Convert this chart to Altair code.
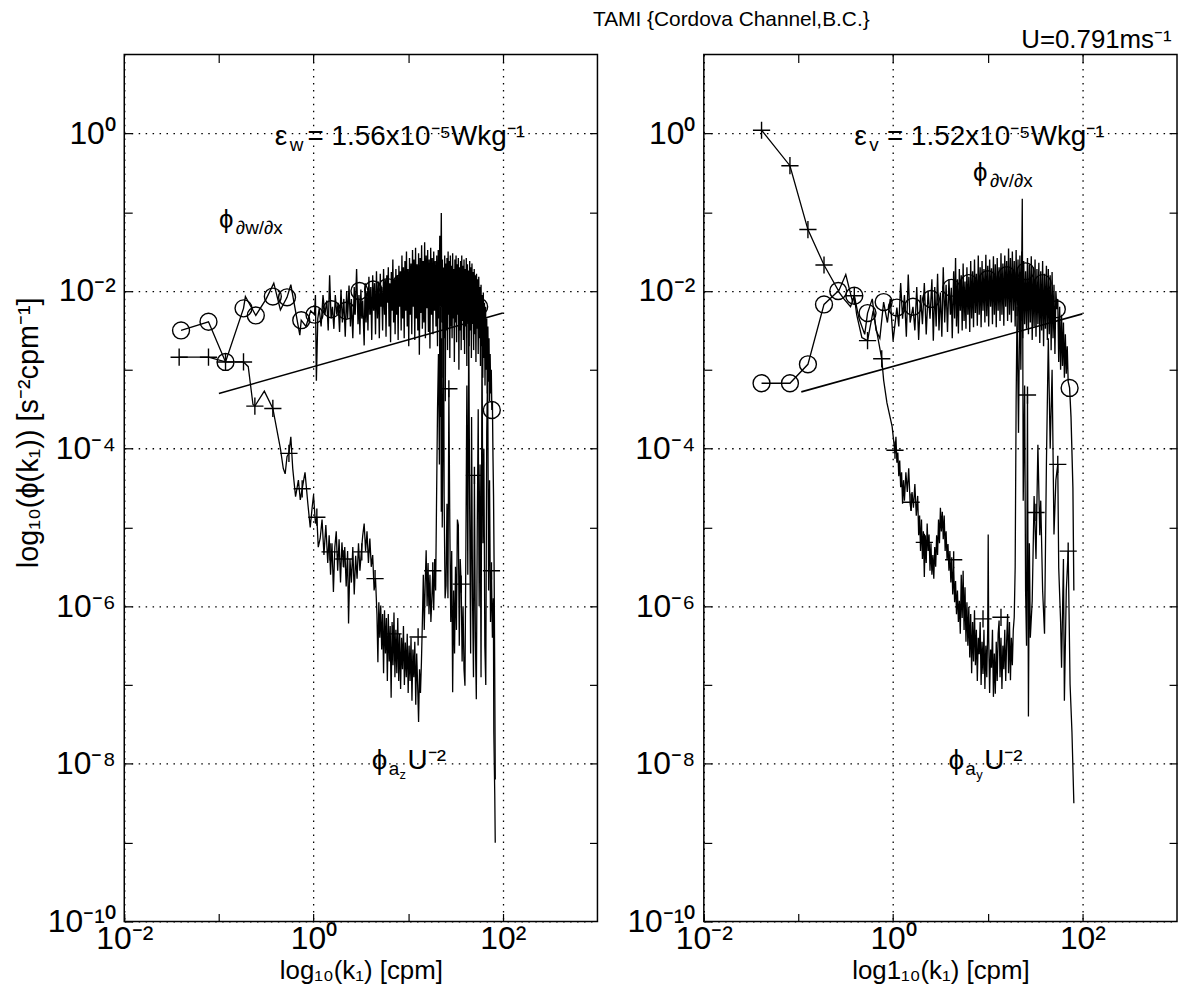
import altair as alt
import pandas as pd

FONT = "Liberation Sans"

# ---------------- values (log10 units) ----------------
# left panel: phi_dw/dx spectrum (line)
W_SPEC = [(-1.40,-2.50),(-1.11,-2.39),(-0.93,-2.90),(-0.74,-2.22),(-0.72,-2.07),(-0.61,-2.31),
    (-0.50,-2.10),(-0.42,-1.90),(-0.35,-2.24),(-0.28,-2.08),(-0.24,-1.92),(-0.145,-2.56),(-0.13,-2.37),
    (-0.08,-2.45),(-0.03,-2.25),(0.01,-2.30),(0.02,-2.05),(0.03,-3.14),(0.045,-2.35),
    (0.06,-2.22),(0.08,-2.45),(0.10,-2.05),(0.12,-2.30),(0.14,-2.12),(0.155,-2.50),(0.17,-1.80),
    (0.185,-2.35),(0.20,-2.20),(0.215,-2.48),(0.23,-2.05),(0.245,-2.30),(0.26,-2.15),(0.275,-2.52),
    (0.29,-1.98),(0.305,-2.40),(0.32,-2.10),(0.335,-2.58),(0.35,-2.00),(0.36,-2.35),(0.375,-1.93),
    (0.39,-2.45),(0.40,-2.10),(0.415,-2.60),(0.43,-1.95),(0.44,-2.30),(0.455,-1.72),(0.47,-2.42),
    (0.48,-2.05),(0.49,-2.55),(0.50,-1.98),(0.51,-2.35),(0.52,-2.12),(0.535,-2.69),(0.545,-1.90),
    (0.555,-2.40),(0.565,-2.00),(0.575,-2.50),(0.585,-1.82),(0.595,-2.30),(0.605,-1.95),(0.615,-2.62),
    (0.625,-1.80),(0.635,-2.25),(0.645,-1.90),(0.655,-2.55),(0.665,-1.75),(0.675,-2.35),(0.685,-1.88),
    (0.695,-2.60),(0.705,-1.78),(0.713,-2.20),(0.72,-1.95),(0.73,-2.50),(0.74,-1.72),(0.75,-2.30),
    (0.758,-1.85),(0.766,-2.58),(0.774,-1.80),(0.782,-2.15),(0.79,-1.70),(0.798,-2.45),(0.806,-1.90),
    (0.814,-2.65),(0.822,-1.76),(0.83,-2.25),(0.838,-1.60),(0.846,-2.40),(0.854,-1.85),(0.862,-2.55),
    (0.87,-1.72),(0.878,-2.30),(0.886,-1.80),(0.894,-2.62),(0.902,-1.68),(0.91,-2.20),(0.918,-1.75),
    (0.926,-2.50),(0.934,-1.55),(0.942,-2.35),(0.95,-1.70),(0.958,-2.60),(0.966,-1.62),(0.974,-2.25),
    (0.982,-1.50),(0.99,-2.45),(0.998,-1.72),(1.006,-2.70),(1.014,-1.58),(1.022,-2.30),(1.03,-1.65),
    (1.038,-2.55),(1.046,-1.48),(1.054,-2.20),(1.062,-1.60),(1.07,-2.62),(1.078,-1.45),(1.086,-2.35),
    (1.094,-1.66),(1.102,-2.50),(1.11,-1.52),(1.118,-2.81),(1.126,-1.58),(1.134,-2.28),(1.142,-1.42),
    (1.15,-2.48),(1.158,-1.62),(1.166,-2.40),(1.174,-1.38),(1.182,-2.60),(1.19,-1.55),(1.198,-2.22),
    (1.206,-1.48),(1.214,-2.52),(1.222,-1.60),(1.23,-2.73),(1.238,-1.45),(1.246,-2.30),(1.254,-1.58),
    (1.262,-2.55),(1.27,-1.50),(1.278,-2.25),(1.286,-1.62),(1.294,-2.45),(1.302,-1.55),(1.31,-2.70),
    (1.318,-1.48),(1.326,-2.35),(1.334,-1.30),(1.342,-2.20),(1.35,-1.01),(1.356,-2.40),(1.362,-1.60),
    (1.368,-3.10),(1.374,-1.70),(1.38,-2.60),(1.386,-1.55),(1.392,-3.40),(1.398,-1.65),(1.404,-2.50),
    (1.41,-1.58),(1.416,-2.75),(1.422,-1.50),(1.428,-2.30),(1.434,-1.62),(1.44,-2.85),(1.446,-1.55),
    (1.452,-2.45),(1.458,-1.68),(1.464,-2.60),(1.47,-1.52),(1.476,-2.35),(1.482,-1.72),(1.488,-2.90),
    (1.494,-1.60),(1.50,-2.40),(1.506,-1.55),(1.512,-2.65),(1.518,-1.66),(1.524,-2.30),(1.53,-1.58),
    (1.536,-3.00),(1.542,-1.70),(1.548,-2.50),(1.554,-1.62),(1.56,-2.75),(1.566,-1.55),(1.572,-2.38),
    (1.578,-1.68),(1.584,-2.62),(1.59,-1.60),(1.596,-2.80),(1.602,-1.72),(1.608,-2.45),(1.614,-1.58),
    (1.62,-2.95),(1.626,-1.66),(1.632,-2.40),(1.638,-1.74),(1.644,-2.70),(1.65,-1.62),(1.656,-2.50),
    (1.662,-1.70),(1.668,-2.85),(1.674,-1.65),(1.68,-2.42),(1.686,-1.76),(1.692,-2.75),(1.698,-1.72),
    (1.704,-2.55),(1.71,-1.80),(1.716,-2.90),(1.722,-1.78),(1.728,-2.48),(1.734,-1.85),(1.74,-2.80),
    (1.746,-1.82),(1.752,-2.60),(1.758,-1.95),(1.764,-2.95),(1.77,-1.92),(1.776,-2.70),(1.782,-2.05),
    (1.788,-3.10),(1.794,-2.02),(1.80,-2.85),(1.806,-2.15),(1.812,-3.20),(1.818,-2.20),(1.824,-3.00),
    (1.83,-2.35),(1.836,-3.30),(1.842,-2.45),(1.848,-3.15),(1.854,-2.60),(1.86,-3.40),(1.866,-2.80),
    (1.872,-3.30),(1.878,-3.00),(1.884,-3.51),(1.89,-3.40),(1.896,-4.10),(1.902,-4.60),(1.908,-5.50),
    (1.914,-6.80),(1.92,-8.20)]
W_CIRC = [(-1.40,-2.50),(-1.11,-2.39),(-0.93,-2.90),(-0.74,-2.22),(-0.61,-2.31),(-0.43,-2.07),
    (-0.28,-2.08),(-0.13,-2.37),(0.01,-2.30),(0.19,-2.23),(0.345,-2.25),(0.485,-2.00),(0.63,-1.98),
    (0.78,-1.95),(0.93,-1.90),(1.08,-1.95),(1.22,-1.95),(1.36,-1.92),(1.50,-2.00),(1.63,-2.05),
    (1.75,-2.20),(1.884,-3.51)]
# left panel: phi_az U^-2 spectrum (line)
Z_ACC = [(-1.42,-2.84),(-1.11,-2.84),(-0.93,-2.90),(-0.74,-2.90),(-0.69,-2.96),(-0.64,-3.44),
    (-0.62,-3.46),(-0.52,-3.27),(-0.43,-3.49),(-0.35,-4.00),(-0.32,-4.25),(-0.30,-4.32),(-0.28,-4.10),
    (-0.26,-4.06),(-0.24,-3.85),(-0.22,-4.25),(-0.19,-4.61),(-0.16,-4.40),(-0.14,-4.65),(-0.12,-4.51),
    (-0.09,-4.30),(-0.06,-4.70),(-0.035,-5.00),(-0.015,-4.75),(0.0,-4.59),(0.02,-4.95),(0.035,-4.87),
    (0.05,-5.25),(0.07,-5.14),(0.09,-4.90),(0.11,-5.35),(0.13,-4.97),(0.15,-5.45),(0.165,-5.10),
    (0.18,-5.60),(0.195,-5.20),(0.21,-5.82),(0.225,-5.25),(0.24,-5.05),(0.255,-5.55),(0.27,-5.15),
    (0.285,-5.70),(0.30,-5.19),(0.315,-5.50),(0.33,-5.25),(0.345,-5.75),(0.36,-5.30),(0.37,-6.22),
    (0.385,-5.40),(0.40,-5.70),(0.415,-5.25),(0.43,-5.85),(0.445,-5.36),(0.46,-5.65),(0.475,-5.20),
    (0.49,-5.55),(0.505,-5.31),(0.52,-5.10),(0.535,-4.95),(0.55,-5.30),(0.565,-5.05),(0.58,-5.45),
    (0.595,-5.14),(0.61,-5.50),(0.625,-5.35),(0.64,-5.80),(0.655,-5.65),(0.67,-6.10),(0.68,-6.71),
    (0.69,-5.95),(0.70,-6.40),(0.71,-5.99),(0.72,-6.55),(0.73,-6.10),(0.74,-6.85),(0.75,-6.05),
    (0.76,-6.60),(0.77,-6.15),(0.78,-6.95),(0.79,-6.10),(0.80,-6.70),(0.81,-6.25),(0.82,-7.16),
    (0.83,-6.20),(0.84,-6.75),(0.85,-6.08),(0.86,-6.90),(0.87,-6.30),(0.88,-6.85),(0.89,-6.15),
    (0.90,-6.95),(0.91,-6.35),(0.92,-7.05),(0.93,-6.40),(0.94,-6.80),(0.95,-6.25),(0.96,-7.00),
    (0.97,-6.46),(0.98,-6.90),(0.99,-6.35),(1.00,-7.10),(1.01,-6.50),(1.02,-6.95),(1.03,-6.40),
    (1.04,-7.20),(1.05,-6.55),(1.06,-6.90),(1.07,-6.45),(1.08,-7.25),(1.09,-6.60),(1.10,-7.00),
    (1.11,-7.47),(1.12,-6.80),(1.13,-7.10),(1.14,-6.71),(1.15,-6.20),(1.16,-5.60),(1.17,-6.30),
    (1.18,-5.70),(1.19,-5.29),(1.20,-6.00),(1.21,-5.45),(1.22,-6.10),(1.23,-5.60),(1.24,-6.20),
    (1.25,-5.91),(1.26,-5.55),(1.27,-6.05),(1.28,-5.40),(1.29,-5.80),(1.30,-4.64),(1.31,-3.50),
    (1.32,-2.80),(1.33,-4.20),(1.335,-1.50),(1.34,-3.60),(1.345,-2.20),(1.35,-4.80),(1.355,-2.60),
    (1.36,-5.00),(1.37,-3.40),(1.375,-2.40),(1.38,-4.60),(1.39,-5.90),(1.40,-5.74),(1.41,-4.70),
    (1.42,-5.90),(1.43,-3.24),(1.44,-4.97),(1.45,-6.20),(1.46,-5.30),(1.47,-7.09),(1.48,-5.80),
    (1.49,-6.60),(1.50,-5.50),(1.51,-6.30),(1.52,-4.90),(1.53,-4.97),(1.54,-6.50),(1.55,-5.40),
    (1.56,-5.72),(1.57,-6.70),(1.58,-6.00),(1.59,-6.80),(1.60,-7.01),(1.61,-5.20),(1.62,-3.20),
    (1.63,-5.60),(1.64,-2.40),(1.65,-4.80),(1.66,-6.60),(1.67,-3.60),(1.68,-5.90),(1.69,-6.90),
    (1.70,-4.34),(1.71,-6.40),(1.72,-7.18),(1.73,-5.00),(1.74,-3.50),(1.75,-6.00),(1.76,-4.20),
    (1.77,-6.90),(1.78,-2.60),(1.79,-5.20),(1.80,-4.00),(1.81,-6.50),(1.82,-7.00),(1.83,-3.80),
    (1.84,-3.00),(1.85,-5.80),(1.86,-4.40),(1.87,-6.20),(1.88,-5.55),(1.89,-6.40),(1.90,-5.90),
    (1.905,-7.60),(1.915,-8.40),(1.92,-9.00)]
Z_PLUS = [(-1.42,-2.84),(-1.11,-2.84),(-0.93,-2.90),(-0.74,-2.90),(-0.62,-3.46),(-0.43,-3.49),
    (-0.26,-4.06),(-0.12,-4.51),(0.035,-4.87),(0.175,-5.31),(0.32,-5.40),(0.51,-5.31),(0.65,-5.65),
    (0.84,-6.35),(1.105,-6.39),(1.26,-5.55),(1.43,-3.24),(1.56,-5.72),(1.70,-4.34),(1.88,-5.55)]
W_REF = [(-1.0,-3.30),(2.0,-2.28)]

# right panel: phi_dv/dx spectrum (line)
V_SPEC = [(-1.39,-3.17),(-1.09,-3.17),(-0.90,-2.93),(-0.73,-2.17),(-0.58,-2.00),(-0.52,-2.10),
    (-0.45,-2.20),(-0.41,-2.06),(-0.36,-2.35),(-0.30,-2.55),(-0.27,-2.28),(-0.22,-2.10),(-0.18,-2.50),
    (-0.14,-2.60),(-0.10,-2.14),(-0.06,-2.40),(-0.03,-2.10),(0.0,-2.63),(0.04,-2.21),(0.06,-2.45),
    (0.08,-1.90),(0.10,-2.35),(0.12,-2.05),(0.14,-2.58),(0.16,-1.79),(0.18,-2.40),(0.21,-2.20),
    (0.23,-2.50),(0.25,-1.95),(0.27,-2.62),(0.29,-2.05),(0.31,-2.42),(0.33,-1.90),(0.35,-2.55),
    (0.37,-2.00),(0.39,-2.35),(0.41,-1.85),(0.425,-2.63),(0.44,-1.95),(0.455,-2.45),(0.47,-1.78),
    (0.485,-2.50),(0.50,-2.02),(0.515,-2.58),(0.53,-1.70),(0.545,-2.40),(0.56,-1.92),(0.575,-2.52),
    (0.59,-1.85),(0.605,-2.30),(0.615,-1.96),(0.625,-2.60),(0.64,-1.75),(0.65,-2.35),(0.66,-1.58),
    (0.67,-2.45),(0.68,-1.85),(0.69,-2.54),(0.70,-1.72),(0.71,-2.25),(0.72,-1.80),(0.73,-2.50),
    (0.74,-1.65),(0.75,-2.38),(0.76,-1.88),(0.77,-2.48),(0.78,-1.70),(0.79,-2.30),(0.80,-1.82),
    (0.81,-2.52),(0.82,-1.62),(0.83,-2.35),(0.84,-1.75),(0.85,-2.46),(0.86,-1.60),(0.87,-2.28),
    (0.88,-1.78),(0.89,-2.44),(0.90,-1.55),(0.91,-2.30),(0.92,-1.70),(0.93,-2.46),(0.94,-1.62),
    (0.95,-2.25),(0.96,-1.72),(0.97,-2.40),(0.98,-1.54),(0.99,-2.32),(1.00,-1.68),(1.01,-2.45),
    (1.02,-1.60),(1.03,-2.20),(1.04,-1.71),(1.05,-2.42),(1.06,-1.56),(1.07,-2.30),(1.08,-1.66),
    (1.09,-2.46),(1.10,-1.58),(1.11,-2.25),(1.12,-1.70),(1.13,-2.38),(1.14,-1.52),(1.15,-2.30),
    (1.16,-1.65),(1.17,-2.44),(1.18,-1.55),(1.19,-2.20),(1.20,-1.62),(1.21,-2.38),(1.22,-1.46),
    (1.23,-2.30),(1.24,-1.58),(1.25,-2.40),(1.26,-1.50),(1.27,-2.25),(1.28,-1.62),(1.29,-2.45),
    (1.30,-1.48),(1.31,-2.32),(1.32,-1.60),(1.33,-2.50),(1.34,-1.55),(1.35,-2.38),(1.36,-1.50),
    (1.37,-2.60),(1.38,-1.62),(1.39,-2.42),(1.40,-1.75),(1.41,-2.48),(1.42,-1.58),(1.43,-2.55),
    (1.44,-1.66),(1.45,-2.40),(1.46,-1.56),(1.47,-2.62),(1.48,-1.70),(1.49,-2.45),(1.50,-1.60),
    (1.51,-2.58),(1.52,-1.72),(1.53,-2.42),(1.54,-1.64),(1.55,-2.66),(1.56,-1.75),(1.57,-2.50),
    (1.58,-1.62),(1.59,-2.70),(1.60,-1.78),(1.61,-2.48),(1.62,-1.68),(1.63,-2.62),(1.64,-1.72),
    (1.65,-2.55),(1.66,-1.80),(1.67,-2.75),(1.68,-1.76),(1.69,-2.60),(1.70,-1.92),(1.71,-2.80),
    (1.72,-2.00),(1.73,-2.23),(1.74,-2.10),(1.75,-2.90),(1.76,-2.20),(1.77,-3.00),(1.78,-2.30),
    (1.79,-2.95),(1.80,-2.40),(1.81,-3.10),(1.82,-2.55),(1.83,-3.05),(1.84,-2.70),(1.85,-3.15),
    (1.865,-3.23),(1.88,-3.60),(1.90,-4.50),(1.91,-5.80)]
V_CIRC = [(-1.39,-3.17),(-1.09,-3.17),(-0.90,-2.93),(-0.73,-2.17),(-0.58,-2.00),(-0.41,-2.06),
    (-0.27,-2.28),(-0.10,-2.14),(0.04,-2.21),(0.21,-2.20),(0.40,-2.10),(0.615,-1.96),(0.80,-1.90),
    (1.00,-1.85),(1.20,-1.80),(1.40,-1.75),(1.58,-1.90),(1.73,-2.23),(1.865,-3.23)]
# right panel: phi_ay U^-2 spectrum (line)
Y_ACC = [(-1.39,0.04),(-1.09,-0.41),(-0.90,-1.22),(-0.73,-1.67),(-0.575,-2.00),(-0.50,-1.79),
    (-0.43,-2.13),(-0.41,-2.06),(-0.385,-2.30),(-0.33,-2.59),(-0.27,-2.63),(-0.21,-2.25),(-0.19,-2.40),
    (-0.12,-2.86),(-0.10,-3.13),(-0.065,-3.42),(-0.01,-3.72),(0.02,-4.06),(0.03,-3.85),(0.04,-4.18),
    (0.05,-4.05),(0.06,-4.35),(0.07,-4.15),(0.08,-4.49),(0.09,-4.30),(0.10,-4.70),(0.11,-4.40),
    (0.12,-4.66),(0.135,-4.30),(0.15,-4.55),(0.165,-4.25),(0.18,-4.70),(0.19,-4.79),(0.20,-4.55),
    (0.215,-4.75),(0.23,-4.45),(0.245,-4.85),(0.26,-4.60),(0.27,-5.10),(0.28,-4.85),(0.29,-5.30),
    (0.30,-4.90),(0.31,-5.40),(0.32,-5.05),(0.33,-5.63),(0.34,-5.10),(0.35,-5.45),(0.36,-4.95),
    (0.37,-5.30),(0.38,-5.09),(0.39,-5.55),(0.40,-5.20),(0.41,-5.60),(0.42,-5.35),(0.43,-5.65),
    (0.44,-5.25),(0.45,-5.50),(0.46,-5.10),(0.47,-5.35),(0.48,-4.90),(0.49,-5.20),(0.50,-4.75),
    (0.51,-5.05),(0.52,-4.80),(0.53,-5.15),(0.54,-4.85),(0.55,-5.30),(0.56,-5.05),(0.57,-5.40),
    (0.58,-5.21),(0.59,-5.55),(0.60,-5.30),(0.61,-5.70),(0.62,-5.38),(0.63,-5.85),(0.64,-5.50),
    (0.65,-5.95),(0.66,-5.68),(0.67,-6.10),(0.68,-5.80),(0.69,-6.20),(0.70,-5.93),(0.71,-6.35),
    (0.72,-5.60),(0.73,-6.15),(0.74,-5.55),(0.75,-6.30),(0.76,-5.76),(0.77,-6.45),(0.78,-5.95),
    (0.79,-6.50),(0.80,-6.01),(0.81,-6.65),(0.82,-6.10),(0.83,-6.85),(0.84,-6.20),(0.85,-6.70),
    (0.86,-6.05),(0.87,-6.75),(0.88,-6.30),(0.89,-6.95),(0.90,-6.40),(0.91,-6.61),(0.92,-6.20),
    (0.93,-7.00),(0.94,-6.45),(0.95,-6.86),(0.96,-6.30),(0.97,-7.05),(0.98,-6.50),(0.99,-6.90),
    (1.00,-6.27),(1.005,-5.09),(1.01,-6.40),(1.02,-7.10),(1.03,-6.55),(1.04,-6.78),(1.05,-6.30),
    (1.06,-7.15),(1.07,-6.60),(1.08,-7.11),(1.09,-6.45),(1.10,-6.95),(1.11,-6.35),(1.12,-6.18),
    (1.13,-6.90),(1.14,-6.40),(1.15,-7.05),(1.16,-6.50),(1.17,-6.80),(1.18,-6.30),(1.19,-6.95),
    (1.20,-6.44),(1.21,-6.10),(1.22,-6.85),(1.23,-6.20),(1.24,-6.94),(1.25,-6.40),(1.26,-6.75),
    (1.27,-6.30),(1.28,-6.14),(1.29,-5.50),(1.30,-3.40),(1.31,-2.20),(1.325,-3.80),(1.34,-1.90),
    (1.35,-3.00),(1.365,-0.83),(1.37,-2.50),(1.375,-4.66),(1.39,-3.20),(1.40,-5.80),(1.41,-6.50),
    (1.42,-3.32),(1.43,-7.40),(1.44,-5.20),(1.45,-6.40),(1.47,-5.93),(1.49,-4.60),(1.51,-5.40),
    (1.53,-3.95),(1.55,-5.10),(1.56,-4.66),(1.58,-5.80),(1.60,-6.35),(1.62,-4.20),(1.64,-2.60),
    (1.66,-4.00),(1.68,-3.00),(1.70,-5.09),(1.72,-4.40),(1.74,-4.20),(1.75,-5.51),(1.77,-6.20),
    (1.78,-6.78),(1.80,-5.40),(1.81,-7.20),(1.83,-5.80),(1.85,-5.30),(1.87,-6.99),(1.89,-7.60),
    (1.91,-8.50)]
Y_PLUS = [(-1.39,0.04),(-1.09,-0.41),(-0.90,-1.22),(-0.73,-1.67),(-0.41,-2.06),(-0.27,-2.63),
    (-0.12,-2.86),(0.02,-4.02),(0.19,-4.68),(0.33,-5.19),(0.64,-5.41),(0.95,-6.16),(1.14,-6.14),
    (1.42,-3.32),(1.51,-4.81),(1.74,-4.20),(1.85,-5.30)]
V_REF = [(-0.97,-3.28),(2.0,-2.29)]

# axis ticks and labels
X_TICKS = [-2, -1, 0, 1, 2]
Y_TICKS = [-10, -9, -8, -7, -6, -5, -4, -3, -2, -1, 0]
BOX_X_TICKS = [-1, 0, 1, 2]
BOX_Y_TICKS = [-9, -8, -7, -6, -5, -4, -3, -2, -1, 0]
X_LABELS = {-2: "10⁻²", 0: "10⁰", 2: "10²"}
Y_LABELS = {0: "10⁰", -2: "10⁻²", -4: "10⁻⁴", -6: "10⁻⁶", -8: "10⁻⁸", -10: "10⁻¹⁰"}

# annotation runs: (panel, x, y, text, dx, dy, size)
ANNOT = [
    ("L", -0.41, -0.04, "ε", 0, 0, 28), ("L", -0.41, -0.04, "w", 15, 9, 19),
    ("L", -0.41, -0.04, "= 1.56x10⁻⁵Wkg⁻¹", 33, 0, 28),
    ("L", -1.00, -1.10, "ϕ", 0, 0, 26), ("L", -1.00, -1.10, "∂w/∂x", 17, 8, 19),
    ("L", 0.615, -7.97, "ϕ", 0, 0, 28), ("L", 0.615, -7.97, "a", 17, 8, 19),
    ("L", 0.615, -7.97, "z", 28, 14, 13), ("L", 0.615, -7.97, "U⁻²", 36, 0, 28),
    ("R", -0.41, -0.04, "ε", 0, 0, 28), ("R", -0.41, -0.04, "v", 15, 9, 19),
    ("R", -0.41, -0.04, "= 1.52x10⁻⁵Wkg⁻¹", 33, 0, 28),
    ("R", 0.845, -0.50, "ϕ", 0, 0, 26), ("R", 0.845, -0.50, "∂v/∂x", 17, 8, 19),
    ("R", 0.585, -7.97, "ϕ", 0, 0, 28), ("R", 0.585, -7.97, "a", 17, 8, 19),
    ("R", 0.585, -7.97, "y", 28, 14, 13), ("R", 0.585, -7.97, "U⁻²", 36, 0, 28),
]

# ---------------------------------------------------------------------------
W, H = 476, 872
XS = alt.Scale(domain=[-2, 3], nice=False, zero=False)
YS = alt.Scale(domain=[-10, 1], nice=False, zero=False)
GRID_COND = {"condition": {"test": "abs(datum.value % 2) < 0.5", "value": 1}, "value": 0}
PLUS_SHAPE = "M-1,0L1,0M0,-1L0,1"


def df(pairs):
    return pd.DataFrame({"x": [p[0] for p in pairs], "y": [p[1] for p in pairs],
                         "i": list(range(len(pairs)))})


def lab_expr(d):
    s = "''"
    for v, t in d.items():
        s = f"datum.value == {v} ? '{t}' : " + s
    return s


def x_axis(title):
    return alt.Axis(values=X_TICKS, labelExpr=lab_expr(X_LABELS), orient="bottom", offset=-8,
                    tickSize=8, tickWidth=1.2, tickColor="black", domain=False, grid=True,
                    gridColor="black", gridDash=[1.5, 5.5], gridWidth=1.3, gridOpacity=GRID_COND,
                    labelFont=FONT, labelFontSize=32, labelColor="black", labelPadding=2,
                    labelFlush=False, labelOverlap=False, title=title, titleFont=FONT,
                    titleFontSize=26, titleFontWeight="normal", titleColor="black", titlePadding=3)


def y_axis(title):
    if title:
        kw = dict(title=title, titleFont=FONT, titleFontSize=29, titleFontWeight="normal",
                  titleColor="black", titlePadding=4, titleY=380)
    else:
        kw = dict(title="")
    return alt.Axis(values=Y_TICKS, labelExpr=lab_expr(Y_LABELS), orient="left", offset=-8,
                    tickSize=8, tickWidth=1.2, tickColor="black", domain=False, grid=True,
                    gridColor="black", gridDash=[1.5, 5.5], gridWidth=1.3, gridOpacity=GRID_COND,
                    labelFont=FONT, labelFontSize=32, labelColor="black", labelPadding=9,
                    labelFlush=False, labelOverlap=False, **kw)


def box_axis(orient, ticks):
    return alt.Axis(values=ticks, orient=orient, offset=-8, tickSize=8, tickWidth=1.2,
                    tickColor="black", domain=False, grid=False, labels=False, title="")


def panel(spec, circ, acc, plus, ref, key, xtitle, ytitle):
    spec_l = alt.Chart(df(spec)).mark_line(color="black", strokeWidth=1.35).encode(
        x=alt.X("x:Q", scale=XS, axis=x_axis(xtitle)),
        y=alt.Y("y:Q", scale=YS, axis=y_axis(ytitle)),
        order="i:Q")
    acc_l = alt.Chart(df(acc)).mark_line(color="black", strokeWidth=1.3).encode(
        x=alt.X("x:Q", scale=XS, axis=None), y=alt.Y("y:Q", scale=YS, axis=None), order="i:Q")
    ref_l = alt.Chart(df(ref)).mark_line(color="black", strokeWidth=1.6).encode(
        x=alt.X("x:Q", scale=XS, axis=box_axis("top", BOX_X_TICKS)),
        y=alt.Y("y:Q", scale=YS, axis=box_axis("right", BOX_Y_TICKS)), order="i:Q")
    circ_p = alt.Chart(df(circ)).mark_point(shape="circle", size=290, filled=False, color="black",
                                            strokeWidth=1.4, opacity=1).encode(
        x=alt.X("x:Q", scale=XS, axis=None), y=alt.Y("y:Q", scale=YS, axis=None))
    plus_p = alt.Chart(df(plus)).mark_point(shape=PLUS_SHAPE, size=300, filled=False,
                                            color="black", strokeWidth=1.4, opacity=1).encode(
        x=alt.X("x:Q", scale=XS, axis=None), y=alt.Y("y:Q", scale=YS, axis=None))
    layers = [spec_l, acc_l, ref_l, circ_p, plus_p]
    for (pk, ax, ay, txt, dx, dy, fs) in ANNOT:
        if pk != key:
            continue
        layers.append(alt.Chart(pd.DataFrame({"x": [ax], "y": [ay], "t": [txt]})).mark_text(
            align="left", baseline="middle", dx=dx, dy=dy, fontSize=fs, font=FONT,
            color="black").encode(
            x=alt.X("x:Q", scale=XS, axis=None), y=alt.Y("y:Q", scale=YS, axis=None),
            text="t:N"))
    return alt.layer(*layers).resolve_axis(x="independent", y="independent").properties(
        width=W, height=H)


left = panel(W_SPEC, W_CIRC, Z_ACC, Z_PLUS, W_REF, "L",
             "log₁₀(k₁) [cpm]", "log₁₀(ϕ(k₁)) [s⁻²cpm⁻¹]")
right = panel(V_SPEC, V_CIRC, Y_ACC, Y_PLUS, V_REF, "R",
              "log1₁₀(k₁) [cpm]", "").properties(
    title=alt.TitleParams("U=0.791ms⁻¹", anchor="end", fontSize=26, font=FONT,
                          fontWeight="normal", color="black", offset=1, dx=-6))

chart = alt.hconcat(left, right, spacing=107, bounds="flush",
                    title=alt.TitleParams("TAMI {Cordova Channel,B.C.}", anchor="middle", dx=136,
                                          fontSize=21, font=FONT, fontWeight="normal",
                                          color="black", offset=-4)).properties(
    padding={"left": 14, "top": 6, "right": 0, "bottom": 0}, background="white"
).configure_view(stroke="black", strokeWidth=1.5)

chart.save("out.html", embed_options={"renderer": "svg", "actions": False})
